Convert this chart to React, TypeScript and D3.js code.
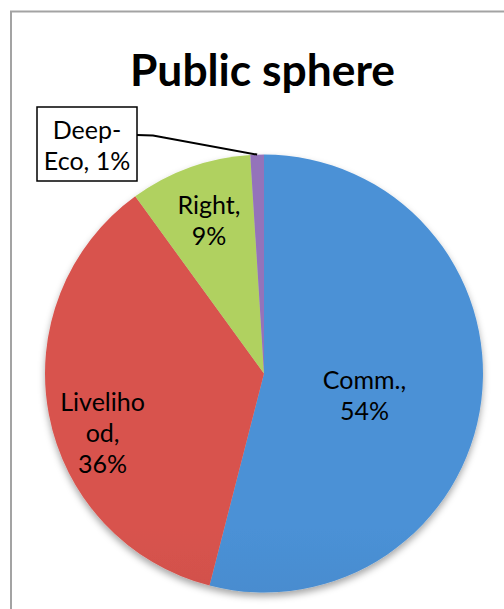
import React from 'react';
import * as d3 from 'd3';

const categories = ['Comm.', 'Livelihood', 'Right', 'Deep-Eco'];
const values = [54, 36, 9, 1];
const labelLines = [
  ['Comm.,', '54%'],
  ['Liveliho', 'od,', '36%'],
  ['Right,', '9%'],
  ['Deep-', 'Eco, 1%'],
];
const title = 'Public sphere';

// layout (not data)
const W = 504;
const H = 609;
const cx = 264;
const cy = 373.5;
const R = 219;
const gradientStops = [
  ['#4b91d6', '#3870a8'],
  ['#d8534e', '#aa4139'],
  ['#b0d160', '#88a444'],
  ['#9473ba', '#7b5b9e'],
];
// label centres relative to the pie centre, in units of the radius
const labelAnchors: ([number, number] | null)[] = [
  [0.459, 0.103],
  [-0.737, 0.274],
  [-0.251, -0.696],
  null,
];
const lineGap = 31;
const capHalf = 8.5;
const font = 'Lato, "Open Sans", sans-serif';

export default function App() {
  const pie = d3.pie<number>().sort(null).startAngle(0).endAngle(2 * Math.PI);
  const arcs = pie(values);
  const arc = d3.arc<d3.PieArcDatum<number>>().innerRadius(0).outerRadius(R);
  const rimArc = d3.arc<d3.PieArcDatum<number>>().innerRadius(R).outerRadius(R);

  const deep = arcs[3];
  const rim = rimArc.centroid(deep);
  const box = { x: 37, y: 107, w: 100, h: 74 };
  const leader = d3.line()([
    [box.x + box.w, 135],
    [box.x + box.w + 16, 135.5],
    [cx + rim[0], cy + rim[1]],
  ]);

  return (
    <svg
      width={W}
      height={H}
      style={{ position: 'absolute', left: 0, top: 0, background: '#fff' }}
      fontFamily={font}
    >
      <defs>
        {gradientStops.map((g, i) => (
          <linearGradient
            key={i}
            id={`grad${i}`}
            gradientUnits="userSpaceOnUse"
            x1={0}
            y1={cy - R}
            x2={0}
            y2={cy + R}
          >
            <stop offset="0%" stopColor={g[0]} />
            <stop offset="100%" stopColor={g[1]} />
          </linearGradient>
        ))}
        <filter id="shadow" x="-20%" y="-20%" width="140%" height="140%">
          <feDropShadow dx={0} dy={4} stdDeviation={3.5} floodColor="#000" floodOpacity={0.35} />
        </filter>
      </defs>
      <rect x={0} y={0} width={W} height={H} fill="#fff" />
      <rect x={11} y={11.5} width={W + 20} height={H + 20} fill="none" stroke="#a3a3a3" strokeWidth={2} />

      <text
        x={262.5}
        y={86}
        textAnchor="middle"
        fontSize={43}
        fontWeight={700}
        fill="#000"
        textLength={265}
        lengthAdjust="spacingAndGlyphs"
      >
        {title}
      </text>

      <g transform={`translate(${cx},${cy})`} filter="url(#shadow)">
        {arcs.map((a, i) => (
          <path key={categories[i]} d={arc(a) || ''} fill={`url(#grad${i})`} />
        ))}
      </g>

      {arcs.map((a, i) => {
        const anc = labelAnchors[i];
        if (!anc) return null;
        const lx = cx + anc[0] * R;
        const ly = cy + anc[1] * R;
        const lines = labelLines[i];
        const y0 = ly - ((lines.length - 1) * lineGap) / 2 + capHalf;
        return (
          <text key={categories[i]} textAnchor="middle" fontSize={25} fill="#000">
            {lines.map((t, j) => (
              <tspan key={j} x={lx} y={y0 + j * lineGap}>
                {t}
              </tspan>
            ))}
          </text>
        );
      })}

      <path d={leader || ''} fill="none" stroke="#000" strokeWidth={2} />
      <rect x={box.x} y={box.y} width={box.w} height={box.h} fill="#fff" stroke="#000" strokeWidth={1.5} />
      <text textAnchor="middle" fontSize={25} fill="#000">
        {labelLines[3].map((t, j) => (
          <tspan key={j} x={box.x + box.w / 2} y={139 + j * lineGap}>
            {t}
          </tspan>
        ))}
      </text>
    </svg>
  );
}
